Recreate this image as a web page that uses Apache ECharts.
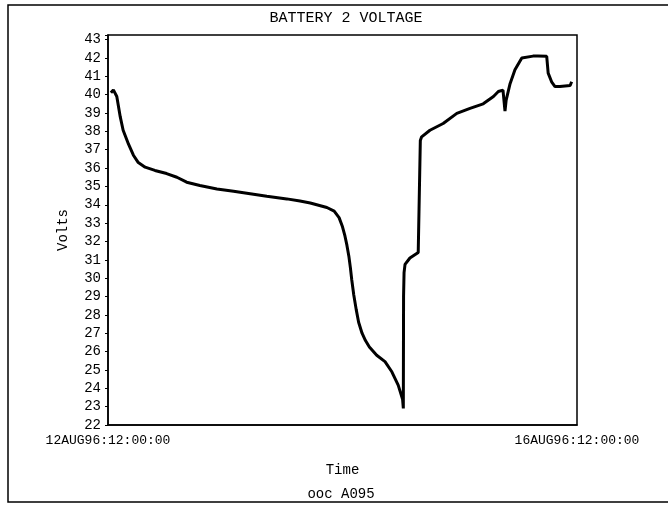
<!DOCTYPE html>
<html>
<head>
<meta charset="utf-8">
<script src="https://cdn.jsdelivr.net/npm/echarts@6/dist/echarts.min.js"></script>
<style>
html,body{margin:0;padding:0;background:#fff;}
#chart{width:668px;height:506px;}
</style>
</head>
<body>
<div id="chart"></div>
<script>
// Time in hours after 12AUG96:12:00:00
var hours = [0.6, 1.1, 1.8, 2.5, 3.1, 4.2, 5.2, 6.2, 7.6, 9.6, 12.0, 14.1, 16.1, 18.8, 22.3, 25.7, 29.1, 32.5, 36.6, 39.3, 41.4, 44.8, 46.3, 47.3, 48.0, 48.5, 48.9, 49.3, 49.6, 49.9, 50.3, 50.8, 51.3, 52.0, 52.7, 53.5, 55.0, 56.7, 58.1, 59.4, 60.3, 60.45, 60.5, 60.6, 60.8, 61.8, 63.5, 63.86, 63.93, 64.2, 65.9, 68.6, 71.4, 74.1, 76.8, 78.9, 79.9, 80.85, 81.26, 81.5, 82.3, 83.3, 84.7, 85.0, 87.0, 88.0, 89.8, 90.1, 90.8, 91.5, 92.5, 94.6, 94.9];
var volts = [40.1, 40.26, 39.9, 38.8, 38.06, 37.3, 36.7, 36.3, 36.05, 35.87, 35.7, 35.5, 35.23, 35.05, 34.86, 34.74, 34.6, 34.46, 34.32, 34.2, 34.1, 33.85, 33.65, 33.3, 32.8, 32.3, 31.8, 31.2, 30.6, 29.9, 29.1, 28.3, 27.6, 27.0, 26.6, 26.25, 25.8, 25.45, 24.9, 24.17, 23.4, 22.9, 29.0, 30.3, 30.75, 31.1, 31.4, 31.45, 37.5, 37.7, 38.06, 38.43, 38.98, 39.25, 39.5, 39.9, 40.17, 40.25, 39.1, 39.7, 40.6, 41.35, 42.0, 42.09, 42.1, 42.1, 42.09, 41.17, 40.7, 40.44, 40.45, 40.5, 40.7];
var xTickLabels = ['12AUG96:12:00:00', '16AUG96:12:00:00'];
var yTicks = [22, 23, 24, 25, 26, 27, 28, 29, 30, 31, 32, 33, 34, 35, 36, 37, 38, 39, 40, 41, 42, 43];

var data = hours.map(function (h, i) { return [h, volts[i]]; });
var mono = 'Liberation Mono';

var chart = echarts.init(document.getElementById('chart'), null, {renderer: 'canvas'});
chart.setOption({
  backgroundColor: '#fff',
  animation: false,
  title: {
    text: 'BATTERY 2 VOLTAGE',
    left: 341, textAlign: 'center', top: 6,
    textStyle: {fontFamily: mono, fontSize: 15, fontWeight: 'normal', color: '#000'}
  },
  grid: {
    left: 108, right: 91, top: 35, bottom: 81,
    show: true, borderColor: '#000', borderWidth: 1.5, backgroundColor: 'transparent'
  },
  xAxis: {
    type: 'value', min: 0, max: 96, interval: 96,
    name: 'Time', nameLocation: 'middle', nameGap: 38,
    nameTextStyle: {fontFamily: mono, fontSize: 14, color: '#000'},
    splitLine: {show: false},
    axisLine: {show: true, lineStyle: {color: '#000', width: 1.5}},
    axisTick: {show: false},
    axisLabel: {
      color: '#000', fontFamily: mono, fontSize: 13, margin: 9,
      formatter: function (v) { return v === 0 ? xTickLabels[0] : (v === 96 ? xTickLabels[1] : ''); }
    }
  },
  yAxis: {
    type: 'value', min: 22, max: 43.25, interval: 1,
    name: 'Volts', nameLocation: 'middle', nameGap: 38, nameRotate: 90,
    nameTextStyle: {fontFamily: mono, fontSize: 14, color: '#000'},
    splitLine: {show: false},
    axisLine: {show: true, lineStyle: {color: '#000', width: 1.5}},
    axisTick: {show: true, length: 3, lineStyle: {color: '#000'}},
    axisLabel: {
      color: '#000', fontFamily: mono, fontSize: 14, margin: 7,
      formatter: function (v) { return yTicks.indexOf(v) >= 0 ? String(v) : ''; }
    }
  },
  series: [{
    type: 'line',
    data: data,
    showSymbol: false,
    lineStyle: {color: '#000', width: 3},
    itemStyle: {color: '#000'}
  }],
  graphic: [
    {type: 'rect', shape: {x: 8, y: 5, width: 680, height: 497}, style: {fill: 'none', stroke: '#000', lineWidth: 1.5}, silent: true},
    {type: 'text', x: 341, y: 494, style: {text: 'ooc A095', fontFamily: mono, fontSize: 14, fill: '#000', textAlign: 'center', textVerticalAlign: 'middle'}}
  ]
});
</script>
</body>
</html>
